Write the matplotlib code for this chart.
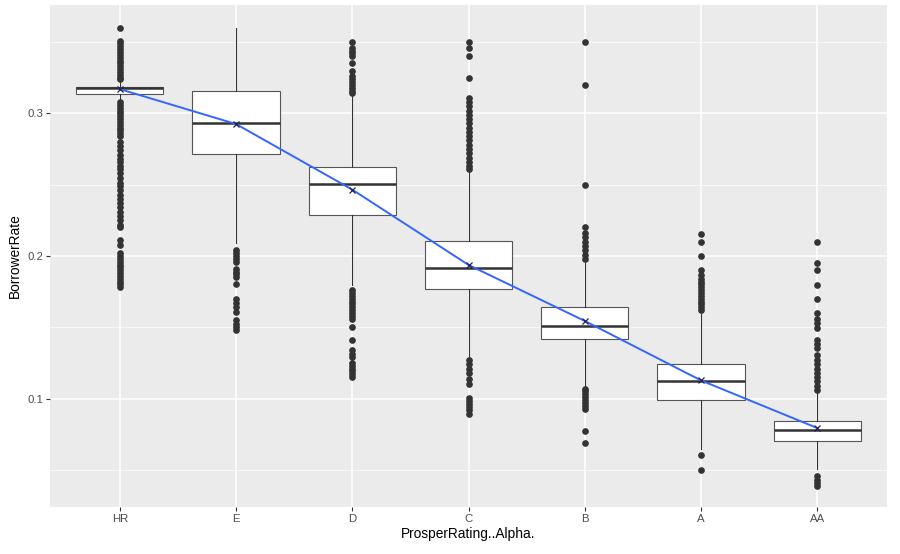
import numpy as np
import matplotlib
matplotlib.use("Agg")
import matplotlib.pyplot as plt
from matplotlib.ticker import MultipleLocator

plt.rcParams['font.family'] = ['Liberation Sans', 'DejaVu Sans']

# Categories (ProsperRating..Alpha.)
ratings = ["HR", "E", "D", "C", "B", "A", "AA"]

# Box statistics
q1 = [0.3134, 0.2716, 0.2289, 0.1765, 0.1418, 0.0993, 0.0699]
median = [0.3175, 0.2930, 0.2502, 0.1918, 0.1512, 0.1120, 0.0779]
q3 = [0.3185, 0.3155, 0.2625, 0.2106, 0.1639, 0.1239, 0.0843]
whisker_lo = [0.309, 0.209, 0.1796, 0.128, 0.109, 0.0648, 0.0507]
whisker_hi = [0.3225, 0.360, 0.312, 0.2594, 0.195, 0.1608, 0.1051]
mean_rate = [0.3170, 0.2925, 0.2465, 0.1937, 0.1544, 0.1127, 0.0793]

# Outliers per rating
outliers_hr = [0.360, 0.351, 0.349, 0.347, 0.345, 0.343, 0.341, 0.339, 0.337, 0.335,
               0.333, 0.331, 0.329, 0.327, 0.325, 0.324,
               0.308, 0.306, 0.304, 0.302, 0.300, 0.298, 0.296, 0.294, 0.292, 0.290,
               0.288, 0.286, 0.284, 0.280, 0.277, 0.274, 0.271, 0.268, 0.266, 0.263,
               0.261, 0.258, 0.255, 0.251, 0.249, 0.246, 0.243, 0.240, 0.237, 0.234,
               0.231, 0.228, 0.225, 0.222, 0.220, 0.211, 0.208, 0.202, 0.200, 0.198,
               0.196, 0.194, 0.192, 0.190, 0.188, 0.186, 0.184, 0.182, 0.180, 0.178]
outliers_e = [0.204, 0.202, 0.200, 0.198, 0.196, 0.191, 0.189, 0.187, 0.185, 0.180,
              0.170, 0.167, 0.164, 0.161, 0.155, 0.152, 0.150, 0.148]
outliers_d = [0.350, 0.346, 0.344, 0.342, 0.340, 0.335, 0.330, 0.326, 0.324, 0.322,
              0.320, 0.318, 0.316, 0.314,
              0.176, 0.174, 0.172, 0.170, 0.168, 0.166, 0.164, 0.162, 0.160, 0.158,
              0.156, 0.150, 0.141, 0.134, 0.131, 0.129, 0.125, 0.123, 0.121, 0.119,
              0.117, 0.115]
outliers_c = [0.350, 0.3456, 0.3404, 0.325, 0.311, 0.308, 0.305, 0.302, 0.299, 0.296,
              0.293, 0.290, 0.287, 0.284, 0.281, 0.278, 0.275, 0.272, 0.269, 0.266,
              0.263, 0.261,
              0.1268, 0.124, 0.121, 0.118, 0.114, 0.110, 0.1007, 0.098, 0.096, 0.094,
              0.092, 0.0894]
outliers_b = [0.350, 0.320, 0.250, 0.220, 0.216, 0.213, 0.210, 0.207, 0.204, 0.201,
              0.198, 0.107, 0.105, 0.103, 0.101, 0.099, 0.097, 0.095, 0.093, 0.077,
              0.069]
outliers_a = [0.2153, 0.210, 0.200, 0.190, 0.1866, 0.184, 0.182, 0.180, 0.178, 0.176,
              0.174, 0.172, 0.170, 0.168, 0.166, 0.164, 0.162, 0.0606, 0.050]
outliers_aa = [0.210, 0.1953, 0.190, 0.1796, 0.1697, 0.160, 0.156, 0.153, 0.1493,
               0.1408, 0.138, 0.1352, 0.1303, 0.1268, 0.124, 0.121, 0.118, 0.115,
               0.112, 0.109, 0.106, 0.0458, 0.043, 0.0405, 0.0387]
outliers = [outliers_hr, outliers_e, outliers_d, outliers_c, outliers_b, outliers_a, outliers_aa]

stats = []
for i in range(len(ratings)):
    stats.append(dict(q1=q1[i], med=median[i], q3=q3[i], whislo=whisker_lo[i],
                      whishi=whisker_hi[i], fliers=outliers[i], label=ratings[i]))

fig = plt.figure(figsize=(9, 5.54), dpi=100)
ax = fig.add_axes([0.0556, 0.085, 0.93, 0.906])
ax.set_facecolor('#EBEBEB')

positions = np.arange(1, len(ratings) + 1)
ax.bxp(stats, positions=positions, widths=0.75, patch_artist=True, zorder=3,
       boxprops=dict(facecolor='white', edgecolor='#555555', linewidth=0.8),
       medianprops=dict(color='#333333', linewidth=1.8),
       whiskerprops=dict(color='#333333', linewidth=0.8),
       capprops=dict(linewidth=0),
       flierprops=dict(marker='o', markersize=3.8, markerfacecolor='#333333',
                       markeredgecolor='#333333', linestyle='none'))

# line through the means plus x markers
ax.plot(positions, mean_rate, color='#3366FF', linewidth=1.4, zorder=4)
ax.plot(positions, mean_rate, linestyle='none', marker='x', markersize=5,
        color='#222255', markeredgewidth=0.9, zorder=5)

ax.set_xlim(0.4, 7.6)
ax.set_ylim(0.024, 0.376)
ax.set_xticks(positions)
ax.set_xticklabels(ratings)
ax.yaxis.set_major_locator(MultipleLocator(0.1))
ax.yaxis.set_minor_locator(MultipleLocator(0.05))
ax.set_yticks([0.1, 0.2, 0.3])
ax.set_yticklabels(["0.1", "0.2", "0.3"])

ax.grid(which='major', color='white', linewidth=1.1, zorder=0)
ax.grid(which='minor', axis='y', color='white', linewidth=0.5, zorder=0)
ax.set_axisbelow(True)
for s in ax.spines.values():
    s.set_visible(False)

ax.tick_params(axis='both', which='major', length=3, color='#333333',
               labelcolor='#4D4D4D', labelsize=8.2, pad=2)
ax.tick_params(axis='y', which='minor', length=0)

ax.set_xlabel("ProsperRating..Alpha.", fontsize=9.9, color='black', labelpad=2)
ax.set_ylabel("BorrowerRate", fontsize=9.9, color='black', labelpad=4)

fig.savefig("out.png", dpi=100)
